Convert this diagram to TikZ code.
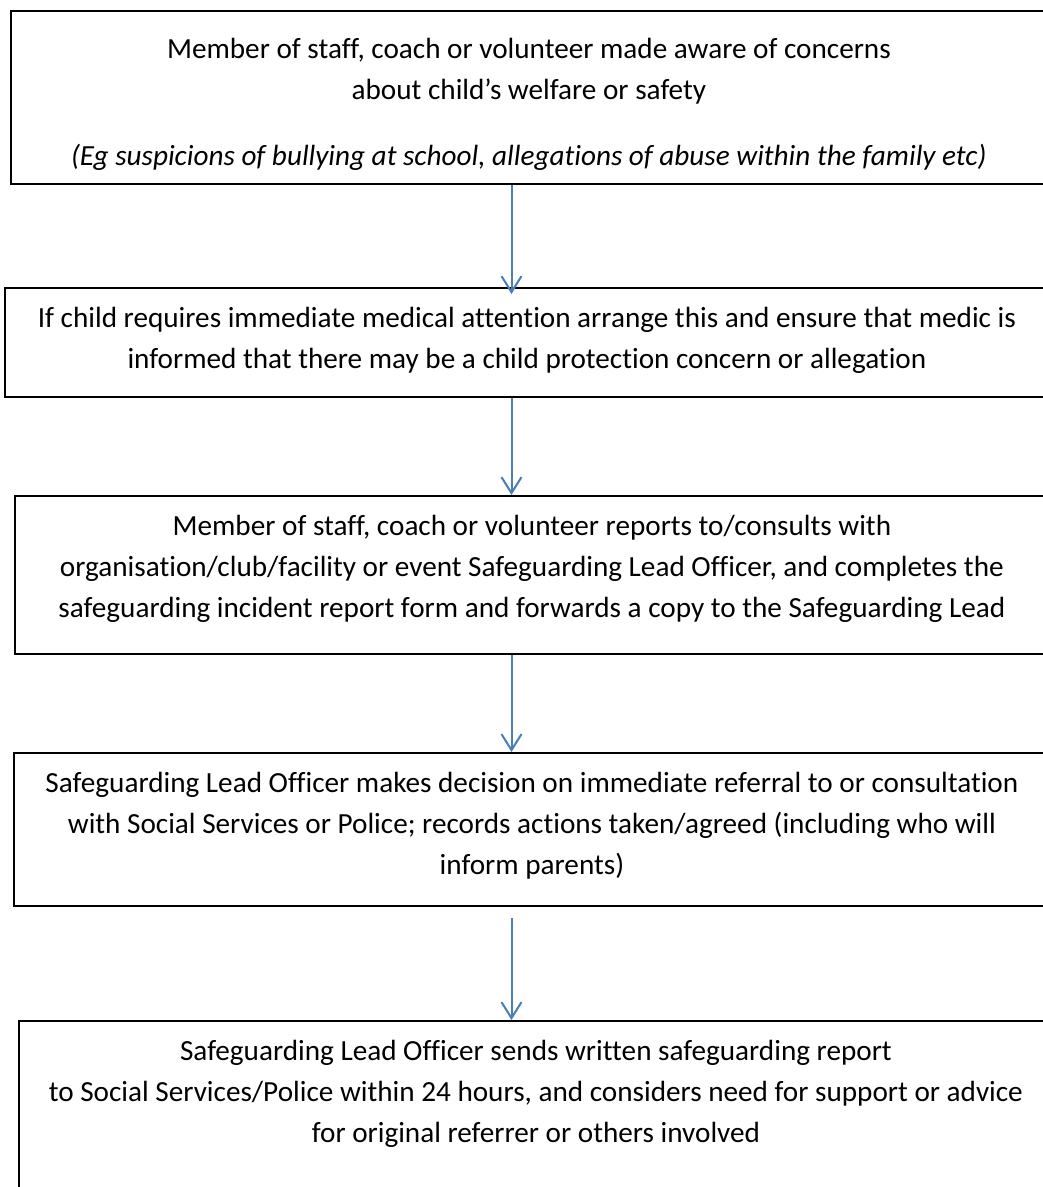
\documentclass[tikz,border=0pt]{standalone}
\usepackage{fontspec}
\setmainfont{Carlito}[Ligatures=NoCommon]
\usepackage{xcolor}
\usetikzlibrary{arrows.meta,positioning,calc}
\definecolor{flowblue}{RGB}{74,126,187}

\begin{document}
\begin{tikzpicture}[x=1pt, y=-1pt,
    box/.style={draw, line width=1.8pt, anchor=north west, inner sep=0pt},
    txt/.style={align=center, inner sep=0pt, font=\fontsize{29.2}{41}\selectfont},
    flow/.style={draw=flowblue, line width=2pt, -{Straight Barb[length=16pt,width=20pt]}}]
    \useasboundingbox (0,0) rectangle (1043,1187);
    \clip (0,0) rectangle (1043,1187);
    % Boxes
    \node[box, minimum width=1036pt, minimum height=173pt] (b1) at (10,10) {};
    \node[box, minimum width=1044pt, minimum height=109pt] (b2) at (4,287) {};
    \node[box, minimum width=1034pt, minimum height=158pt] (b3) at (14,495) {};
    \node[box, minimum width=1036pt, minimum height=153pt] (b4) at (13,752) {};
    \node[box, minimum width=1034pt, minimum height=200pt] (b5) at (18,1020) {};
    % Texts
    \node[txt, below=28pt of b1.north] (t1) {Member of staff, coach or volunteer made aware of concerns\\
        about child’s welfare or safety\\[25pt]
        \textit{(Eg suspicions of bullying at school, allegations of abuse within the family etc)}};
    \node[txt, below=20pt of b2.north] (t2) {If child requires immediate medical attention arrange this and ensure that medic is\\
        informed that there may be a child protection concern or allegation};
    \node[txt, below=20pt of b3.north] (t3) {Member of staff, coach or volunteer reports to/consults with\\
        organisation/club/facility or event Safeguarding Lead Officer, and completes the\\
        safeguarding incident report form and forwards a copy to the Safeguarding Lead};
    \node[txt, below=20pt of b4.north] (t4) {Safeguarding Lead Officer makes decision on immediate referral to or consultation\\
        with Social Services or Police; records actions taken/agreed (including who will\\
        inform parents)};
    \node[txt, below=20pt of b5.north] (t5) {Safeguarding Lead Officer sends written safeguarding report\\
        to Social Services/Police within 24 hours, and considers need for support or advice\\
        for original referrer or others involved};
    % Edges
    \coordinate (spine) at (511.5,0);
    \draw[flow] (b1.south -| spine) -- ($(b2.north -| spine)+(0,7)$);
    \draw[flow] (b2.south -| spine) -- (b3.north -| spine);
    \draw[flow] (b3.south -| spine) -- (b4.north -| spine);
    \draw[flow] ($(b4.south -| spine)+(0,11)$) -- (b5.north -| spine);
\end{tikzpicture}
\end{document}
